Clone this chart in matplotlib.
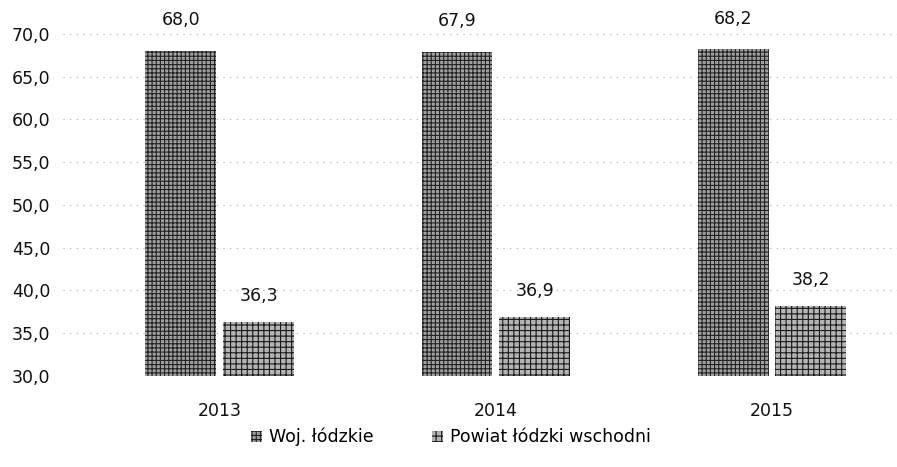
import matplotlib
matplotlib.use("Agg")
import matplotlib.pyplot as plt
import numpy as np

years = ["2013", "2014", "2015"]
series_names = ["Woj. łódzkie", "Powiat łódzki wschodni"]
woj = [68.0, 67.9, 68.2]
powiat = [36.3, 36.9, 38.2]
yticks = [30, 35, 40, 45, 50, 55, 60, 65, 70]

plt.rcParams['font.family'] = ['DejaVu Sans']
plt.rcParams['hatch.linewidth'] = 0.8

fig = plt.figure(figsize=(8.97, 4.67), dpi=100)
ax = fig.add_axes([0.07, 0.195, 0.93, 0.778])

x = np.arange(len(years))
w = 0.257
off = 0.141

for yv in yticks[1:]:
    ax.axhline(yv, color='#a8a8a8', lw=0.8, ls=(0, (1, 5)), zorder=0)

b1 = ax.bar(x - off, woj, w, color='#a0a0a0', edgecolor='#222222',
            hatch='++++', lw=0, zorder=2, label=series_names[0])
b2 = ax.bar(x + off, powiat, w, color='#b4b4b4', edgecolor='#1a1a1a',
            hatch='+++', lw=0, zorder=2, label=series_names[1])

def fmt(v):
    return f"{v:.1f}".replace('.', ',')

for xi, v in zip(x - off, woj):
    ax.text(xi, v + 3.6, fmt(v), ha='center', va='center', fontsize=12.5, color='#111')
for xi, v in zip(x + off, powiat):
    ax.text(xi, v + 3.0, fmt(v), ha='center', va='center', fontsize=12.5, color='#111')

ax.set_ylim(30, 72.5)
ax.set_xlim(-0.569, 2.453)
ax.set_yticks(yticks)
ax.set_yticklabels([fmt(v) for v in yticks], fontsize=12.5, color='#111')
ax.set_xticks(x)
ax.set_xticklabels(years, fontsize=12.5, color='#111')
ax.tick_params(axis='both', length=0)
ax.tick_params(axis='y', pad=9)
ax.tick_params(axis='x', pad=19)
for s in ax.spines.values():
    s.set_visible(False)

fig.legend(handles=[b1, b2], labels=series_names, loc='center',
           bbox_to_anchor=(451 / 897, 1 - 437 / 467), ncol=2, frameon=False,
           fontsize=12.5, handlelength=0.6, handleheight=0.6, handletextpad=0.4,
           columnspacing=3.4)

fig.savefig("out.png", dpi=100)
